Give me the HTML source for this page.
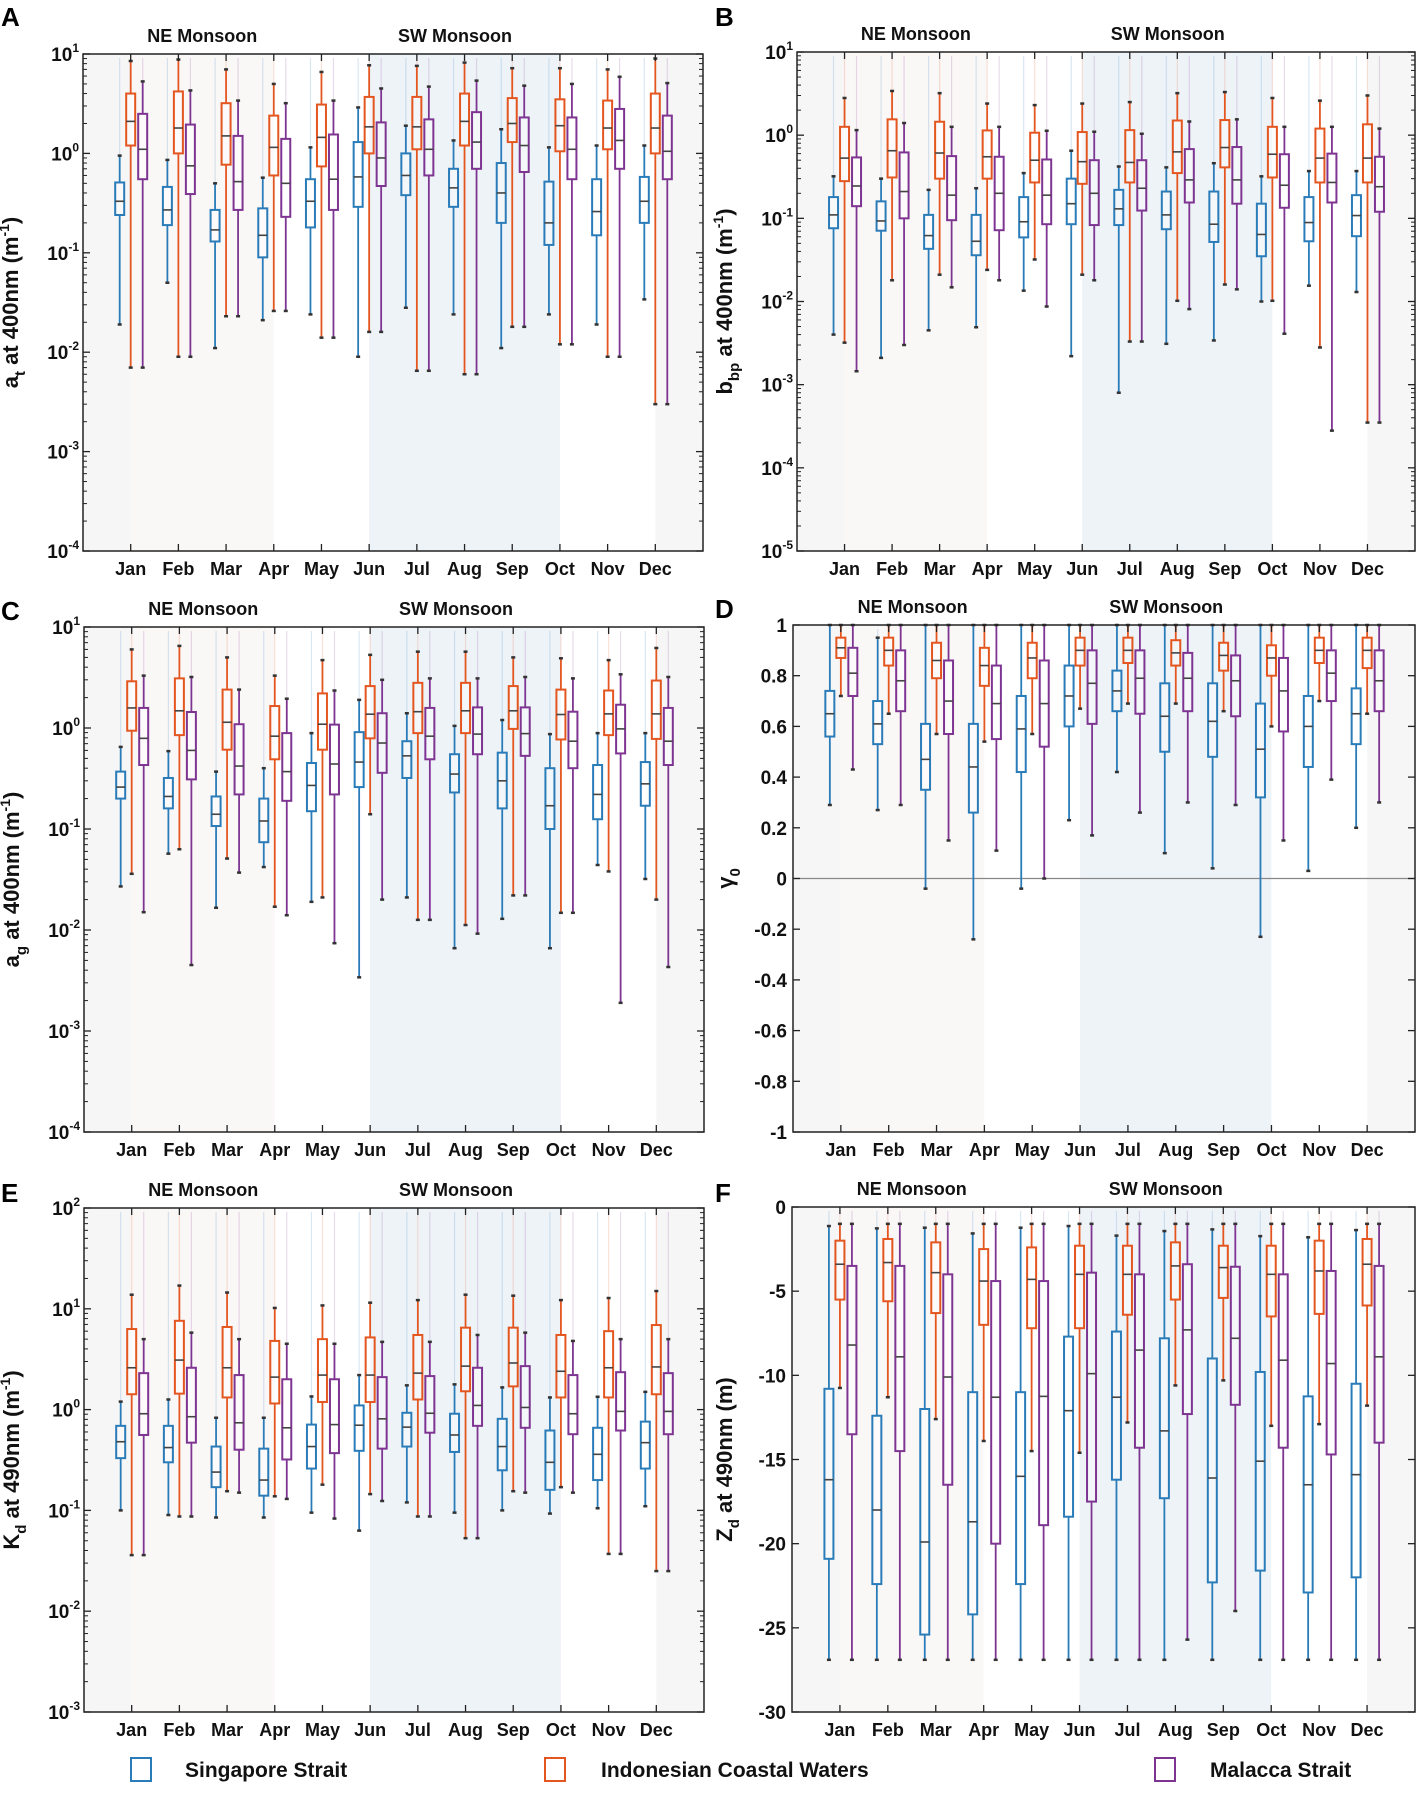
<!DOCTYPE html>
<html><head><meta charset="utf-8">
<style>
html,body{margin:0;padding:0;background:#fff;}
svg{display:block;font-family:"Liberation Sans",Arial,sans-serif;}
</style></head>
<body>
<svg id="fig" width="1417" height="1795" viewBox="0 0 1417 1795" xmlns="http://www.w3.org/2000/svg"></svg>
<script>
const months = ["Jan","Feb","Mar","Apr","May","Jun","Jul","Aug","Sep","Oct","Nov","Dec"];
// each entry: [lowWhisker, q1, median, q3, highWhisker]
const atSingapore = [[0.019,0.24,0.33,0.51,0.95],[0.05,0.19,0.27,0.46,0.86],[0.011,0.13,0.17,0.27,0.5],[0.021,0.09,0.15,0.28,0.57],[0.024,0.18,0.33,0.55,1.15],[0.009,0.29,0.58,1.3,2.9],[0.028,0.38,0.6,1.0,1.9],[0.024,0.29,0.45,0.7,1.35],[0.011,0.2,0.4,0.8,1.75],[0.024,0.12,0.2,0.52,1.15],[0.019,0.15,0.26,0.55,1.2],[0.034,0.2,0.33,0.58,1.2]];
const atIndonesia = [[0.007,1.2,2.1,4.0,8.5],[0.009,1.0,1.8,4.2,8.8],[0.023,0.77,1.5,3.2,7.0],[0.026,0.6,1.15,2.4,5.0],[0.014,0.74,1.45,3.1,6.6],[0.016,1.0,1.85,3.7,7.7],[0.0065,1.1,1.85,3.7,7.6],[0.006,1.2,2.1,4.0,8.2],[0.018,1.3,2.0,3.6,7.2],[0.012,1.05,1.9,3.5,7.2],[0.009,1.1,1.8,3.4,7.0],[0.003,1.0,1.8,4.0,9.0]];
const atMalacca = [[0.007,0.55,1.1,2.5,5.3],[0.009,0.39,0.75,1.95,4.3],[0.023,0.27,0.52,1.5,3.4],[0.026,0.23,0.5,1.4,3.2],[0.014,0.27,0.55,1.55,3.4],[0.016,0.47,0.9,2.05,4.5],[0.0065,0.6,1.1,2.2,4.7],[0.006,0.7,1.3,2.6,5.4],[0.018,0.65,1.2,2.3,4.8],[0.012,0.55,1.1,2.3,5.0],[0.009,0.7,1.35,2.8,5.9],[0.003,0.55,1.05,2.4,5.1]];

const bbpSingapore = [[0.004,0.076,0.11,0.18,0.32],[0.0021,0.071,0.093,0.16,0.30],[0.0045,0.043,0.062,0.11,0.22],[0.0049,0.036,0.053,0.11,0.23],[0.0135,0.059,0.091,0.18,0.35],[0.0022,0.085,0.15,0.30,0.65],[0.0008,0.083,0.13,0.22,0.42],[0.0031,0.074,0.11,0.21,0.41],[0.0034,0.052,0.085,0.21,0.46],[0.01,0.035,0.064,0.15,0.32],[0.0155,0.053,0.089,0.18,0.37],[0.013,0.061,0.108,0.19,0.37]];
const bbpIndonesia = [[0.0032,0.28,0.53,1.26,2.8],[0.018,0.31,0.65,1.55,3.4],[0.021,0.30,0.61,1.45,3.2],[0.024,0.30,0.55,1.14,2.4],[0.032,0.27,0.5,1.07,2.3],[0.021,0.26,0.48,1.09,2.4],[0.0033,0.27,0.47,1.15,2.5],[0.0102,0.35,0.63,1.5,3.2],[0.016,0.41,0.71,1.52,3.3],[0.0102,0.31,0.59,1.26,2.8],[0.0028,0.27,0.53,1.2,2.6],[0.00035,0.27,0.53,1.35,3.0]];
const bbpMalacca = [[0.00145,0.14,0.245,0.54,1.15],[0.003,0.10,0.21,0.62,1.4],[0.0148,0.095,0.19,0.56,1.26],[0.018,0.072,0.2,0.55,1.26],[0.0087,0.085,0.19,0.51,1.13],[0.018,0.083,0.2,0.5,1.1],[0.0033,0.124,0.23,0.5,1.04],[0.0081,0.155,0.29,0.68,1.46],[0.014,0.15,0.29,0.72,1.55],[0.0041,0.134,0.25,0.59,1.26],[0.00028,0.155,0.27,0.6,1.26],[0.00035,0.12,0.24,0.55,1.2]];

const agSingapore = [[0.027,0.2,0.26,0.37,0.65],[0.057,0.16,0.21,0.32,0.59],[0.0166,0.107,0.14,0.21,0.37],[0.042,0.074,0.12,0.2,0.4],[0.019,0.15,0.27,0.45,0.89],[0.0034,0.26,0.46,0.91,1.9],[0.021,0.32,0.53,0.74,1.4],[0.0066,0.23,0.35,0.55,1.05],[0.0129,0.16,0.3,0.57,1.2],[0.0066,0.1,0.17,0.4,0.87],[0.044,0.125,0.22,0.43,0.89],[0.032,0.17,0.28,0.46,0.89]];
const agIndonesia = [[0.036,0.94,1.58,2.9,6.0],[0.063,0.85,1.48,3.1,6.5],[0.051,0.61,1.14,2.4,5.0],[0.017,0.49,0.83,1.65,3.3],[0.021,0.61,1.09,2.2,4.7],[0.14,0.79,1.37,2.6,5.3],[0.0126,0.89,1.45,2.8,5.7],[0.0112,0.89,1.48,2.8,5.7],[0.022,0.98,1.48,2.6,5.0],[0.0148,0.77,1.36,2.4,4.9],[0.038,0.85,1.38,2.35,4.7],[0.02,0.78,1.38,2.95,6.2]];
const agMalacca = [[0.015,0.43,0.79,1.58,3.3],[0.0045,0.31,0.6,1.44,3.2],[0.037,0.22,0.42,1.09,2.4],[0.014,0.19,0.37,0.89,1.95],[0.0074,0.22,0.44,1.08,2.35],[0.02,0.36,0.71,1.4,3.0],[0.0126,0.49,0.83,1.58,3.1],[0.0092,0.55,0.87,1.6,3.1],[0.022,0.53,0.88,1.6,3.2],[0.0148,0.4,0.74,1.45,3.1],[0.0019,0.56,0.98,1.7,3.4],[0.0043,0.43,0.74,1.58,3.2]];

const gammaSingapore = [[0.29,0.56,0.65,0.74,1.0],[0.27,0.53,0.61,0.70,0.95],[-0.04,0.35,0.47,0.61,1.0],[-0.24,0.26,0.44,0.61,1.0],[-0.04,0.42,0.59,0.72,1.0],[0.23,0.60,0.72,0.84,1.0],[0.42,0.66,0.74,0.82,1.0],[0.10,0.50,0.64,0.77,1.0],[0.04,0.48,0.62,0.77,1.0],[-0.23,0.32,0.51,0.69,1.0],[0.03,0.44,0.60,0.72,1.0],[0.20,0.53,0.65,0.75,1.0]];
const gammaIndonesia = [[0.72,0.87,0.91,0.95,1],[0.65,0.84,0.90,0.95,1],[0.57,0.79,0.86,0.93,1],[0.54,0.76,0.84,0.91,1],[0.57,0.79,0.87,0.93,1],[0.67,0.84,0.90,0.95,1],[0.69,0.85,0.90,0.95,1],[0.69,0.84,0.89,0.94,1],[0.66,0.82,0.88,0.93,1],[0.60,0.80,0.87,0.92,1],[0.70,0.85,0.90,0.95,1],[0.65,0.83,0.90,0.95,1]];
const gammaMalacca = [[0.43,0.72,0.81,0.91,1],[0.29,0.66,0.78,0.90,1],[0.15,0.57,0.70,0.86,1],[0.11,0.55,0.69,0.84,1],[0.0,0.52,0.69,0.86,1],[0.17,0.61,0.77,0.90,1],[0.26,0.65,0.79,0.90,1],[0.30,0.66,0.79,0.89,1],[0.29,0.64,0.78,0.88,1],[0.15,0.58,0.74,0.87,1],[0.39,0.70,0.81,0.90,1],[0.30,0.66,0.78,0.90,1]];

const kdSingapore = [[0.1,0.33,0.48,0.69,1.2],[0.09,0.3,0.42,0.69,1.26],[0.085,0.17,0.24,0.43,0.83],[0.085,0.14,0.2,0.41,0.83],[0.095,0.26,0.43,0.71,1.35],[0.063,0.39,0.7,1.1,2.2],[0.12,0.43,0.67,0.93,1.74],[0.095,0.38,0.56,0.91,1.78],[0.1,0.25,0.43,0.81,1.66],[0.093,0.16,0.3,0.62,1.32],[0.105,0.2,0.36,0.66,1.34],[0.11,0.26,0.47,0.76,1.5]];
const kdIndonesia = [[0.036,1.42,2.6,6.3,13.8],[0.087,1.44,3.1,7.6,17],[0.155,1.32,2.6,6.6,14.5],[0.138,1.15,2.1,4.8,10.2],[0.18,1.19,2.2,5.0,10.8],[0.145,1.19,2.2,5.2,11.5],[0.087,1.26,2.3,5.5,12.2],[0.053,1.52,2.7,6.5,13.8],[0.155,1.7,2.9,6.5,13.5],[0.17,1.32,2.4,5.5,12.2],[0.037,1.32,2.6,6.0,12.8],[0.025,1.42,2.65,6.9,15]];
const kdMalacca = [[0.036,0.56,0.91,2.3,5.0],[0.087,0.47,0.85,2.6,5.8],[0.15,0.4,0.74,2.2,5.0],[0.13,0.32,0.66,2.0,4.5],[0.083,0.37,0.71,2.0,4.5],[0.124,0.41,0.81,2.1,4.7],[0.087,0.59,0.92,2.15,4.7],[0.053,0.69,1.1,2.6,5.5],[0.15,0.66,1.05,2.7,5.8],[0.15,0.57,0.91,2.2,4.8],[0.037,0.62,0.96,2.35,5.0],[0.025,0.57,0.96,2.3,5.0]];

const zdSingapore = [[-26.9,-20.9,-16.2,-10.8,-1.13],[-26.9,-22.4,-18.0,-12.4,-1.27],[-26.9,-25.4,-19.9,-12.0,-1.23],[-26.9,-24.2,-18.7,-11.0,-1.57],[-26.9,-22.4,-16.0,-11.0,-1.23],[-26.9,-18.4,-12.1,-7.7,-1.13],[-26.9,-16.2,-11.3,-7.4,-1.7],[-26.9,-17.3,-13.3,-7.8,-1.43],[-26.9,-22.3,-16.1,-9.0,-1.33],[-26.9,-21.6,-15.1,-9.8,-1.73],[-26.9,-22.9,-16.5,-11.25,-1.8],[-26.9,-22.0,-15.9,-10.5,-1.37]];
const zdIndonesia = [[-10.75,-5.5,-3.4,-2.0,-1.0],[-11.3,-5.6,-3.3,-1.9,-1.0],[-12.6,-6.3,-3.9,-2.1,-1.0],[-13.9,-7.0,-4.4,-2.5,-1.0],[-14.5,-7.2,-4.3,-2.4,-1.0],[-14.6,-7.2,-4.0,-2.3,-1.0],[-12.8,-6.4,-4.0,-2.3,-1.0],[-10.6,-5.5,-3.5,-2.1,-1.0],[-10.3,-5.4,-3.6,-2.3,-1.0],[-13.0,-6.5,-4.0,-2.3,-1.0],[-12.9,-6.35,-3.8,-2.0,-1.0],[-11.8,-5.85,-3.4,-1.9,-1.0]];
const zdMalacca = [[-26.9,-13.5,-8.2,-3.5,-1.0],[-26.9,-14.5,-8.9,-3.5,-1.0],[-26.9,-16.5,-10.1,-4.0,-1.0],[-26.9,-20.0,-11.3,-4.4,-1.0],[-26.9,-18.9,-11.25,-4.4,-1.0],[-26.9,-17.5,-9.9,-3.9,-1.0],[-26.9,-14.3,-8.5,-4.0,-1.0],[-25.7,-12.3,-7.3,-3.4,-1.0],[-24.0,-11.75,-7.8,-3.55,-1.0],[-26.9,-14.3,-9.1,-4.0,-1.0],[-26.9,-14.7,-9.3,-3.8,-1.0],[-26.9,-14.0,-8.9,-3.5,-1.0]];

const logTicksA = [-4,-3,-2,-1,0,1];
const logTicksB = [-5,-4,-3,-2,-1,0,1];
const logTicksC = [-4,-3,-2,-1,0,1];
const linTicksD = [-1,-0.8,-0.6,-0.4,-0.2,0,0.2,0.4,0.6,0.8,1];
const logTicksE = [-3,-2,-1,0,1,2];
const linTicksF = [-30,-25,-20,-15,-10,-5,0];

const NS = "http://www.w3.org/2000/svg";
const svg = document.getElementById("fig");
const COLORS = ["#2a7cb9","#e4561f","#7e3592"];
function mk(tag, attrs, parent){
  const e = document.createElementNS(NS, tag);
  for (const k in attrs) e.setAttribute(k, attrs[k]);
  (parent||svg).appendChild(e);
  return e;
}

const panels = [
  {id:"a",letter:"A",lx:0,ly:4,x:83,y:54,w:620,h:497,log:true,min:-4,max:1,ticks:logTicksA,data:[atSingapore,atIndonesia,atMalacca],ylab:["a","t"," at 400nm (m","-1",")"]},
  {id:"b",letter:"B",lx:714,ly:4,x:797,y:52,w:618,h:499,log:true,min:-5,max:1,ticks:logTicksB,data:[bbpSingapore,bbpIndonesia,bbpMalacca],ylab:["b","bp"," at 400nm (m","-1",")"]},
  {id:"c",letter:"C",lx:0,ly:598,x:84,y:627,w:620,h:505,log:true,min:-4,max:1,ticks:logTicksC,data:[agSingapore,agIndonesia,agMalacca],ylab:["a","g"," at 400nm (m","-1",")"]},
  {id:"d",letter:"D",lx:714,ly:596,x:793,y:625,w:622,h:507,log:false,min:-1,max:1,ticks:linTicksD,data:[gammaSingapore,gammaIndonesia,gammaMalacca],ylab:["γ","0","","",""],zero:true},
  {id:"e",letter:"E",lx:0,ly:1180,x:84,y:1208,w:620,h:504,log:true,min:-3,max:2,ticks:logTicksE,data:[kdSingapore,kdIndonesia,kdMalacca],ylab:["K","d"," at 490nm (m","-1",")"]},
  {id:"f",letter:"F",lx:714,ly:1180,x:792,y:1207,w:623,h:505,log:false,min:-30,max:0,ticks:linTicksF,data:[zdSingapore,zdIndonesia,zdMalacca],ylab:["Z","d"," at 490nm (m)","",""]}
];

panels.forEach(p => {
  const g = mk("g", {});
  
  
  const yS = v => {
    const t = p.log ? Math.log10(v) : v;
    return p.y + p.h * (p.max - t) / (p.max - p.min);
  };
  const slot = p.w / 13;
  const xM = i => p.x + (i + 1) * slot;

  // background shading
  const bands = [[0,1,"#f6f6f7"],[1,4,"#faf7f7"],[4,6,"#ffffff"],[6,10,"#eef3f8"],[10,12,"#ffffff"],[12,13,"#f6f6f7"]];
  bands.forEach(b => {
    const r = mk("rect", {x:p.x+b[0]*slot, y:p.y, width:(b[1]-b[0])*slot, height:p.h, fill:b[2]}, g);
    
    
  });

  // zero line
  if (p.zero) {
    const z = mk("line", {x1:p.x, x2:p.x+p.w, y1:yS(0), y2:yS(0), stroke:"#888", "stroke-width":1.2}, g);
    
    
  }

  // boxes
  const offs = [-11, 0, 12];
  const bw = 9;
  p.data.forEach((series, si) => {
    const col = COLORS[si];
    series.forEach((d, mi) => {
      const cx = xM(mi) + offs[si];
      const bg = mk("g", {stroke:col, fill:"none"}, g);
      
      
      // faint extension
      mk("line", {x1:cx, x2:cx, y1:p.y+4, y2:yS(d[4]), "stroke-opacity":0.18, "stroke-width":1.2}, bg);
      mk("line", {x1:cx, x2:cx, y1:yS(d[0]), y2:yS(d[1]), "stroke-width":1.8}, bg);
      mk("line", {x1:cx, x2:cx, y1:yS(d[3]), y2:yS(d[4]), "stroke-width":1.8}, bg);
      mk("line", {x1:cx-2, x2:cx+2, y1:yS(d[0]), y2:yS(d[0]), "stroke-width":2.5, stroke:"#333"}, bg);
      mk("line", {x1:cx-2, x2:cx+2, y1:yS(d[4]), y2:yS(d[4]), "stroke-width":2.5, stroke:"#333"}, bg);
      mk("rect", {x:cx-bw/2, y:yS(d[3]), width:bw, height:Math.max(1, yS(d[1])-yS(d[3])), fill:"#fff", "fill-opacity":0.35, "stroke-width":2}, bg);
      mk("line", {x1:cx-bw/2, x2:cx+bw/2, y1:yS(d[2]), y2:yS(d[2]), "stroke-width":1.6, stroke:"#444"}, bg);
    });
  });

  // axes frame
  const fr = mk("rect", {x:p.x, y:p.y, width:p.w, height:p.h, fill:"none", stroke:"#222", "stroke-width":1.5}, g);
  
  

  // x ticks and labels
  months.forEach((m, i) => {
    const x = xM(i);
    mk("line", {x1:x, x2:x, y1:p.y+p.h, y2:p.y+p.h-7, stroke:"#222", "stroke-width":1.3}, g);
    mk("line", {x1:x, x2:x, y1:p.y, y2:p.y+7, stroke:"#222", "stroke-width":1.3}, g);
    const t = mk("text", {x:x, y:p.y+p.h+24, "text-anchor":"middle", "font-size":18, "font-weight":"bold", fill:"#111"}, g);
    
    
    t.textContent = m;
  });

  // y ticks
  p.ticks.forEach(tv => {
    const v = p.log ? Math.pow(10, tv) : tv;
    const y = yS(v);
    mk("line", {x1:p.x, x2:p.x+7, y1:y, y2:y, stroke:"#222", "stroke-width":1.3}, g);
    mk("line", {x1:p.x+p.w, x2:p.x+p.w-7, y1:y, y2:y, stroke:"#222", "stroke-width":1.3}, g);
    const t = mk("text", {x:p.x-6, y:y+7, "text-anchor":"end", "font-size":19, "font-weight":"bold", fill:"#111"}, g);
    
    
    if (p.log) {
      const ts = mk("tspan", {"font-size":19}, t); ts.textContent = "10";
      const ex = mk("tspan", {"font-size":12, dy:-9}, t); ex.textContent = String(tv);
      t.setAttribute("x", p.x-4);
    } else {
      t.textContent = String(Math.round(tv*10)/10);
    }
    if (p.log && tv < p.max) {
      for (let k = 2; k <= 9; k++) {
        const ym = yS(k * Math.pow(10, tv));
        mk("line", {x1:p.x, x2:p.x+4, y1:ym, y2:ym, stroke:"#222", "stroke-width":1}, g);
        mk("line", {x1:p.x+p.w, x2:p.x+p.w-4, y1:ym, y2:ym, stroke:"#222", "stroke-width":1}, g);
      }
    }
  });

  // y label
  const cx = p.x - (p.log ? 65 : 60);
  const cy = p.y + p.h/2;
  const yl = mk("text", {x:0, y:0, transform:`translate(${cx},${cy}) rotate(-90)`, "text-anchor":"middle", "font-size":22, "font-weight":"bold", fill:"#111"}, g);
  
  
  const L = p.ylab;
  const s0 = mk("tspan", {}, yl); s0.textContent = L[0];
  const s1 = mk("tspan", {"font-size":15, dy:7}, yl); s1.textContent = L[1];
  const s2 = mk("tspan", {dy:-7}, yl); s2.textContent = L[2];
  if (L[3]) {
    const s3 = mk("tspan", {"font-size":14, dy:-9}, yl); s3.textContent = L[3];
    const s4 = mk("tspan", {dy:9}, yl); s4.textContent = L[4];
  }

  // panel letter
  const lt = mk("text", {x:p.lx+1, y:p.ly+22, "font-size":26, "font-weight":"bold", fill:"#000"}, g);
  
  
  lt.textContent = p.letter;

  // monsoon titles
  const ne = mk("text", {x:p.x + 2.5*slot, y:p.y-12, "text-anchor":"middle", "font-size":18, "font-weight":"bold", fill:"#111"}, g);
  
  
  ne.textContent = "NE Monsoon";
  const sw = mk("text", {x:p.x + 7.8*slot, y:p.y-12, "text-anchor":"middle", "font-size":18, "font-weight":"bold", fill:"#111"}, g);
  
  
  sw.textContent = "SW Monsoon";
});

// legend
const legendItems = [["Singapore Strait",131,185],["Indonesian Coastal Waters",545,601],["Malacca Strait",1155,1210]];
legendItems.forEach((it, i) => {
  const lg = mk("g", {});
  
  
  mk("rect", {x:it[1], y:1758, width:20, height:23, fill:"#fff", stroke:COLORS[i], "stroke-width":2}, lg);
  const t = mk("text", {x:it[2], y:1777, "font-size":21, "font-weight":"bold", fill:"#111"}, lg);
  t.textContent = it[0];
});
</script>
</body></html>
